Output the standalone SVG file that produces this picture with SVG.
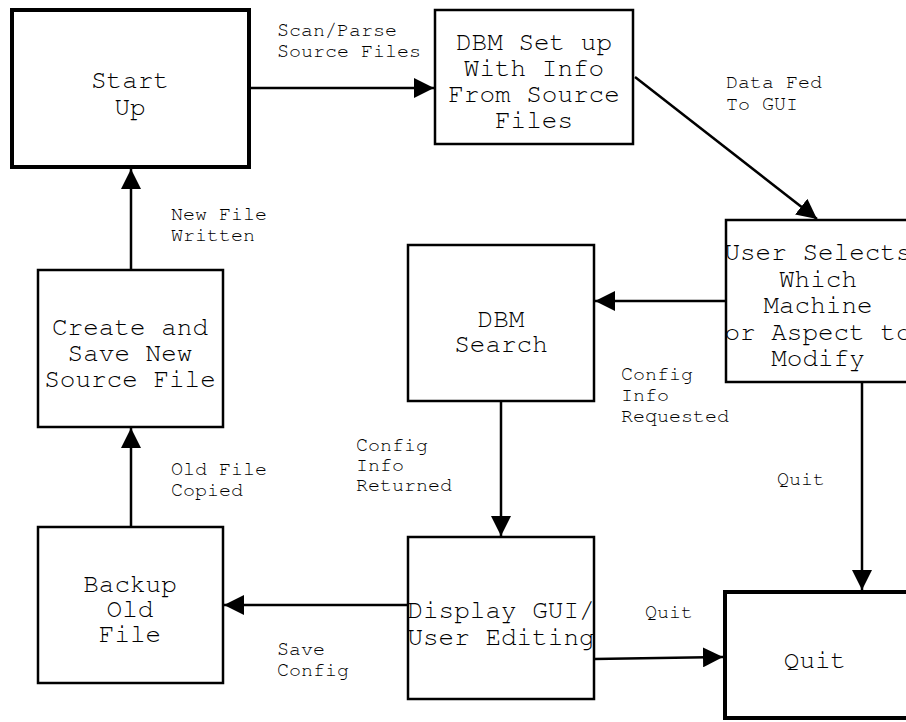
<svg xmlns="http://www.w3.org/2000/svg" width="906" height="722" viewBox="0 0 906 722">
  <defs>
    <marker id="arrow" viewBox="0 0 20 20" refX="20" refY="10" markerWidth="20" markerHeight="20" markerUnits="userSpaceOnUse" orient="auto">
      <path d="M0,0 L20,10 L0,20 Z" fill="#000"/>
    </marker>
    <style>
      .box { fill: #fff; stroke: #000; stroke-width: 2.5; }
      .box.thick { stroke-width: 4; }
      .node, .lbl { font-family: "Nimbus Mono PS", "Nimbus Mono L", "FreeMono", "Courier New", "Liberation Mono", monospace; fill: #000; }
      .node { font-size: 26px; text-anchor: middle; }
      .lbl { font-size: 20px; }
      .edge { fill: none; stroke: #000; stroke-width: 2.5; marker-end: url(#arrow); }
    </style>
  </defs>
  <rect width="906" height="722" fill="#fff"/>

  <g id="connectors">
    <line class="edge" x1="250" y1="88" x2="434" y2="88"/>
    <line class="edge" x1="635" y1="77" x2="817" y2="219"/>
    <line class="edge" x1="726" y1="301" x2="595" y2="301"/>
    <line class="edge" x1="501" y1="401" x2="501" y2="536"/>
    <line class="edge" x1="862" y1="382" x2="862" y2="590"/>
    <line class="edge" x1="594" y1="659" x2="723" y2="657"/>
    <line class="edge" x1="408" y1="605" x2="224" y2="605"/>
    <line class="edge" x1="131" y1="527" x2="131" y2="428"/>
    <line class="edge" x1="131" y1="270" x2="131" y2="169"/>
  </g>

  <g id="labels">
    <text class="lbl" x="277" y="36">Scan/Parse</text>
    <text class="lbl" x="277" y="57">Source Files</text>
    <text class="lbl" x="726" y="88">Data Fed</text>
    <text class="lbl" x="726" y="110">To GUI</text>
    <text class="lbl" x="621" y="380">Config</text>
    <text class="lbl" x="621" y="401">Info</text>
    <text class="lbl" x="621" y="422">Requested</text>
    <text class="lbl" x="356" y="451">Config</text>
    <text class="lbl" x="356" y="471">Info</text>
    <text class="lbl" x="356" y="491">Returned</text>
    <text class="lbl" x="777" y="485">Quit</text>
    <text class="lbl" x="645" y="618">Quit</text>
    <text class="lbl" x="277" y="655">Save</text>
    <text class="lbl" x="277" y="676">Config</text>
    <text class="lbl" x="171" y="475">Old File</text>
    <text class="lbl" x="171" y="496">Copied</text>
    <text class="lbl" x="171" y="220">New File</text>
    <text class="lbl" x="171" y="241">Written</text>
  </g>

  <g id="start-up">
    <rect class="box thick" x="12" y="10" width="237" height="157"/>
    <text class="node" x="130" y="88">Start</text>
    <text class="node" x="130" y="115">Up</text>
  </g>

  <g id="dbm-setup">
    <rect class="box" x="435" y="10" width="198" height="134"/>
    <text class="node" x="534" y="50">DBM Set up</text>
    <text class="node" x="534" y="76">With Info</text>
    <text class="node" x="534" y="102">From Source</text>
    <text class="node" x="534" y="128">Files</text>
  </g>

  <g id="user-selects">
    <rect class="box" x="726" y="220" width="186" height="162"/>
    <text class="node" x="818" y="260">User Selects</text>
    <text class="node" x="818" y="287">Which</text>
    <text class="node" x="818" y="313">Machine</text>
    <text class="node" x="818" y="340">or Aspect to</text>
    <text class="node" x="818" y="366">Modify</text>
  </g>

  <g id="dbm-search">
    <rect class="box" x="408" y="245" width="186" height="156"/>
    <text class="node" x="501" y="327">DBM</text>
    <text class="node" x="501" y="352">Search</text>
  </g>

  <g id="display-gui">
    <rect class="box" x="408" y="537" width="186" height="162"/>
    <text class="node" x="501" y="618">Display GUI/</text>
    <text class="node" x="501" y="645">User Editing</text>
  </g>

  <g id="quit">
    <rect class="box thick" x="725" y="592" width="192" height="126"/>
    <text class="node" x="815" y="668">Quit</text>
  </g>

  <g id="backup">
    <rect class="box" x="38" y="527" width="185" height="156"/>
    <text class="node" x="130" y="592">Backup</text>
    <text class="node" x="130" y="617">Old</text>
    <text class="node" x="130" y="642">File</text>
  </g>

  <g id="create-save">
    <rect class="box" x="38" y="270" width="185" height="157"/>
    <text class="node" x="130" y="335">Create and</text>
    <text class="node" x="130" y="361">Save New</text>
    <text class="node" x="130" y="387">Source File</text>
  </g>
</svg>
